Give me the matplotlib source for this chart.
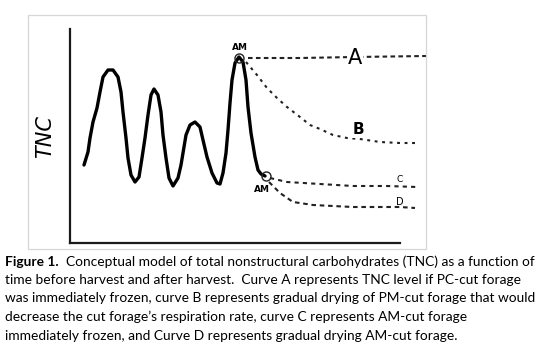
import matplotlib
matplotlib.use("Agg")
import matplotlib.pyplot as plt
from matplotlib.patches import Rectangle

# ---- data (arbitrary units: time before/after harvest, TNC level) ----
main_time = [14, 18, 20, 23, 27, 30, 33, 38, 43, 48, 51, 53, 56, 58, 61, 65, 69, 72, 75, 78,
             81, 84, 88, 91, 93, 96, 99, 103, 108, 111, 113.5, 116, 120, 125, 130, 133, 137,
             142, 147, 150, 153, 156, 158, 160, 162, 165, 169, 173, 176, 178, 181, 185, 188,
             191, 195]
main_tnc = [78, 91, 105, 121, 135, 151, 166, 173, 173, 166, 151, 131, 105, 85, 68, 61, 66,
            85, 105, 128, 148, 154, 148, 131, 108, 85, 65, 57, 65, 78, 93, 108, 118, 121, 116,
            103, 86, 70, 60, 59, 70, 90, 113, 140, 163, 180, 186, 181, 163, 136, 110, 86, 73,
            69, 67]

a_time = [178, 230, 285, 356]
a_tnc = [185, 185, 186, 187]
b_time = [176, 187, 197, 207, 217, 230, 240, 250, 263, 277, 290, 310, 330, 347]
b_tnc = [181, 168, 155, 145, 136, 126, 118, 114, 108, 105, 104, 101, 100, 100]
c_time = [200, 217, 250, 283, 317, 347]
c_tnc = [65, 61, 59, 57, 57, 56]
d_time = [199, 210, 223, 243, 263, 283, 303, 330, 345]
d_tnc = [61, 50, 41, 38, 37, 36, 36, 36, 35]

harvest_time = [169, 196]
harvest_tnc = [185, 67]
harvest_labels = ["AM", "AM"]

curve_labels = ["A", "B", "C", "D"]
curve_label_time = [285, 288, 330, 330]
curve_label_tnc = [185, 113, 63, 41]
curve_label_size = [15, 11, 6.5, 7]

ylabel = "TNC"
caption_bold = "Figure 1."
caption_lines = [
    "  Conceptual model of total nonstructural carbohydrates (TNC) as a function of",
    "time before harvest and after harvest.  Curve A represents TNC level if PC-cut forage",
    "was immediately frozen, curve B represents gradual drying of PM-cut forage that would",
    "decrease the cut forage\u2019s respiration rate, curve C represents AM-cut forage",
    "immediately frozen, and Curve D represents gradual drying AM-cut forage.",
]

W, H = 551, 346
fig = plt.figure(figsize=(W / 100, H / 100), dpi=100)
fig.patch.set_facecolor("white")

# light grey frame around the drawing
fig.patches.append(Rectangle((28 / W, 1 - 249 / H), (426 - 28) / W, (249 - 15) / H,
                             transform=fig.transFigure, fill=False,
                             edgecolor="#d6d6d6", linewidth=0.9))

ax = fig.add_axes([70 / W, 1 - 243 / H, 360 / W, 214 / H])
ax.set_xlim(0, 360)
ax.set_ylim(0, 214)
ax.set_facecolor("none")
for s in ("top", "right"):
    ax.spines[s].set_visible(False)
for s in ("left", "bottom"):
    ax.spines[s].set_linewidth(1.6)
    ax.spines[s].set_color("#1a1a1a")
ax.spines["bottom"].set_bounds(0, 330)
ax.set_xticks([])
ax.set_yticks([])

ax.plot(main_time, main_tnc, color="black", lw=2.4, solid_capstyle="round",
        solid_joinstyle="round", clip_on=False)
dot_kw = dict(color="#222222", lw=1.5, clip_on=False)
ax.plot(a_time, a_tnc, linestyle=(0, (2.2, 1.6)), **dot_kw)
ax.plot(b_time, b_tnc, linestyle=(0, (1.4, 2.2)), **dot_kw)
ax.plot(c_time, c_tnc, linestyle=(0, (2.0, 2.0)), **dot_kw)
ax.plot(d_time, d_tnc, linestyle=(0, (2.2, 1.8)), **dot_kw)

ax.plot(harvest_time, harvest_tnc, linestyle="none", marker="o", markersize=6.5,
        markerfacecolor="none", markeredgecolor="#222222", markeredgewidth=1.0, clip_on=False)
ax.text(harvest_time[0] + 1, harvest_tnc[0] + 11, harvest_labels[0], ha="center", va="center",
        fontsize=6.5, fontweight="bold", color="black")
ax.text(harvest_time[1] - 4, harvest_tnc[1] - 13, harvest_labels[1], ha="center", va="center",
        fontsize=6.5, fontweight="bold", color="black")

for lab, t, v, fs in zip(curve_labels, curve_label_time, curve_label_tnc, curve_label_size):
    ax.text(t, v, lab, ha="center", va="center", fontsize=fs, color="black",
            fontweight="bold" if lab in ("B",) else "normal",
            bbox=dict(facecolor="white", edgecolor="none", pad=0.3) if lab in ("A", "B") else None)

fig.text(45 / W, 1 - 137 / H, ylabel, rotation=90, ha="center", va="center",
         fontsize=15, style="italic", color="black")

# caption
fig.canvas.draw()
r = fig.canvas.get_renderer()
fam = "Lato"
probe = fig.text(0, 0, caption_lines[2], fontsize=10, family=fam)
wpx = probe.get_window_extent(r).width
probe.remove()
fs = 10 * (533 - 5) / wpx

baseline0 = 265.5
step = 18.5
tb = fig.text(5 / W, 1 - baseline0 / H, caption_bold, fontsize=fs, family=fam,
              fontweight="bold", va="baseline", ha="left")
bx = tb.get_window_extent(r).x1
for i, line in enumerate(caption_lines):
    x0 = bx if i == 0 else 5
    fig.text(x0 / W, 1 - (baseline0 + i * step) / H, line, fontsize=fs, family=fam,
             va="baseline", ha="left", color="black")

fig.savefig("out.png", dpi=100, facecolor="white")
